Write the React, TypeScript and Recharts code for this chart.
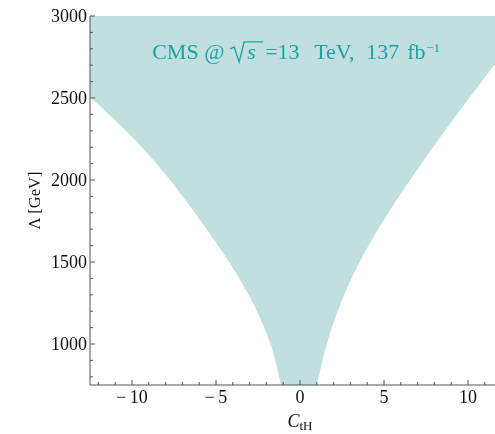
import React from 'react';
import { ComposedChart, Area, XAxis, YAxis, ReferenceDot } from 'recharts';

// Allowed band of C_tH for each new-physics scale Λ (GeV)
const lambdaGeV = [750, 875, 1000, 1125, 1250, 1375, 1500, 1625, 1750, 1875, 2000, 2125, 2250, 2375, 2500, 2625, 2750, 2875, 3000];
const cLower = [-1.13, -1.41, -1.75, -2.24, -2.8, -3.48, -4.22, -5.04, -5.9, -6.8, -7.74, -8.76, -9.88, -11.12, -12.42, -13.76, -15.14, -16.55, -18.0];
const cUpper = [1.01, 1.28, 1.6, 1.98, 2.43, 2.95, 3.55, 4.22, 4.95, 5.73, 6.55, 7.4, 8.27, 9.16, 10.07, 11.0, 11.95, 12.92, 13.9];

const xTicks = [-12, -11, -10, -9, -8, -7, -6, -5, -4, -3, -2, -1, 0, 1, 2, 3, 4, 5, 6, 7, 8, 9, 10, 11, 12];
const yTicks = [800, 900, 1000, 1100, 1200, 1300, 1400, 1500, 1600, 1700, 1800, 1900, 2000, 2100, 2200, 2300, 2400, 2500, 2600, 2700, 2800, 2900, 3000];

const data = lambdaGeV.map((l, i) => ({ lambda: l, band: [cLower[i], cUpper[i]] }));

const FRAME = '#555555';
const FILL = '#c1dfdf';
const TEAL = '#19a4a4';
const SERIF = '"Liberation Serif", "Times New Roman", serif';
const MAJOR = 5;
const MINOR = 3;

const fmt = (v: number) => (v < 0 ? '\u2212\u2009' + Math.abs(v) : String(v));

const BottomTick = (props: any) => {
  const { x, y, payload } = props;
  const v = payload.value as number;
  const major = v % 5 === 0;
  return (
    <g>
      <line x1={x} x2={x} y1={y} y2={y - (major ? MAJOR : MINOR)} stroke={FRAME} strokeWidth={1} />
      {major && (
        <text x={x} y={y + 18} textAnchor="middle" fontFamily={SERIF} fontSize={18} fill="#111">
          {fmt(v)}
        </text>
      )}
    </g>
  );
};

const TopTick = (props: any) => {
  const { x, y, payload } = props;
  const v = payload.value as number;
  const major = v % 5 === 0;
  return <line x1={x} x2={x} y1={y} y2={y + (major ? MAJOR : MINOR)} stroke={FRAME} strokeWidth={1} />;
};

const LeftTick = (props: any) => {
  const { x, y, payload } = props;
  const v = payload.value as number;
  const major = v % 500 === 0;
  return (
    <g>
      <line x1={x} x2={x + (major ? MAJOR : MINOR)} y1={y} y2={y} stroke={FRAME} strokeWidth={1} />
      {major && (
        <text x={x - 3} y={y + 6.3} textAnchor="end" fontFamily={SERIF} fontSize={18} fill="#111">
          {v}
        </text>
      )}
    </g>
  );
};

const XTitle = (props: any) => {
  const vb = props.viewBox;
  const cx = vb.x + vb.width / 2;
  return (
    <text x={cx} y={vb.y + 42} textAnchor="middle" fontFamily={SERIF} fontSize={18} fill="#111">
      <tspan fontStyle="italic">C</tspan>
      <tspan fontSize={13} dy={3}>tH</tspan>
    </text>
  );
};

const YTitle = (props: any) => {
  const vb = props.viewBox;
  const cx = vb.x + 40;
  const cy = vb.y + vb.height / 2;
  return (
    <text x={cx} y={cy} textAnchor="middle" fontFamily={SERIF} fontSize={16.5} fill="#111" transform={`rotate(-90 ${cx} ${cy})`}>
      Λ [GeV]
    </text>
  );
};

const Annotation = (props: any) => {
  const { cx, cy } = props;
  const t = { fontFamily: SERIF, fill: TEAL, fontSize: 22 };
  return (
    <g>
      <text x={cx} y={cy} {...t}>CMS @</text>
      <path
        d={`M ${cx + 78} ${cy - 10} L ${cx + 82} ${cy - 12} L ${cx + 87} ${cy + 3} L ${cx + 92} ${cy - 17} L ${cx + 111} ${cy - 17}`}
        fill="none"
        stroke={TEAL}
        strokeWidth={1.3}
      />
      <text x={cx + 95} y={cy} {...t} fontStyle="italic">s</text>
      <text x={cx + 113} y={cy} {...t}>=13</text>
      <text x={cx + 162} y={cy} {...t}>TeV,</text>
      <text x={cx + 214} y={cy} {...t}>137</text>
      <text x={cx + 255} y={cy} {...t}>fb</text>
      <text x={cx + 274} y={cy - 7} {...t} fontSize={13}>−1</text>
    </g>
  );
};

export default function App() {
  return (
    <div style={{ position: 'fixed', left: 0, top: 0, width: 495, height: 434, overflow: 'hidden' }}>
      <ComposedChart
        width={520}
        height={434}
        data={data}
        layout="vertical"
        margin={{ top: 16, right: 10, bottom: 0, left: 0 }}
      >
        <XAxis
          xAxisId="top"
          orientation="top"
          type="number"
          domain={[-12.5, 12.5]}
          allowDataOverflow
          ticks={xTicks}
          interval={0}
          height={0}
          tickSize={0}
          tickMargin={0}
          tickLine={false}
          axisLine={{ stroke: FRAME, strokeWidth: 1 }}
          tick={<TopTick />}
        />
        <XAxis
          xAxisId="main"
          orientation="bottom"
          type="number"
          domain={[-12.5, 12.5]}
          allowDataOverflow
          ticks={xTicks}
          interval={0}
          height={49}
          tickSize={0}
          tickMargin={0}
          tickLine={false}
          axisLine={{ stroke: FRAME, strokeWidth: 1 }}
          tick={<BottomTick />}
          label={{ content: <XTitle /> }}
        />
        <YAxis
          type="number"
          dataKey="lambda"
          domain={[750, 3000]}
          reversed
          allowDataOverflow
          ticks={yTicks}
          interval={0}
          width={90}
          tickSize={0}
          tickMargin={0}
          tickLine={false}
          axisLine={{ stroke: FRAME, strokeWidth: 1 }}
          tick={<LeftTick />}
          label={{ content: <YTitle /> }}
        />
        <Area
          xAxisId="main"
          dataKey="band"
          type="monotone"
          fill={FILL}
          fillOpacity={1}
          stroke="none"
          isAnimationActive={false}
        />
        <ReferenceDot
          xAxisId="main"
          x={-8.8}
          y={2738}
          r={0}
          ifOverflow="visible"
          shape={(p: any) => <Annotation cx={p.cx} cy={p.cy} />}
        />
      </ComposedChart>
    </div>
  );
}
